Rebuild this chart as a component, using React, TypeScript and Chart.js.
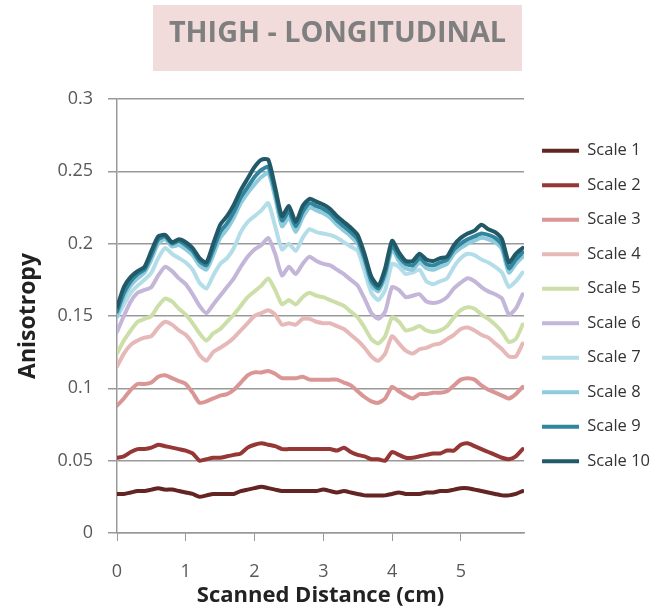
import React, { useEffect, useRef } from 'react';
import { Chart, registerables } from 'chart.js';

Chart.register(...registerables);

const chartTitle = 'THIGH - LONGITUDINAL';
const xAxisTitle = 'Scanned Distance (cm)';
const yAxisTitle = 'Anisotropy';

const distance = [
  0, 0.1, 0.2, 0.3, 0.4, 0.5, 0.6, 0.7, 0.8, 0.9,
  1.0, 1.1, 1.2, 1.3, 1.4, 1.5, 1.6, 1.7, 1.8, 1.9,
  2.0, 2.1, 2.2, 2.3, 2.4, 2.5, 2.6, 2.7, 2.8, 2.9,
  3.0, 3.1, 3.2, 3.3, 3.4, 3.5, 3.6, 3.7, 3.8, 3.9,
  4.0, 4.1, 4.2, 4.3, 4.4, 4.5, 4.6, 4.7, 4.8, 4.9,
  5.0, 5.1, 5.2, 5.3, 5.4, 5.5, 5.6, 5.7, 5.8, 5.9,
];

const seriesNames = ['Scale 1', 'Scale 2', 'Scale 3', 'Scale 4', 'Scale 5', 'Scale 6', 'Scale 7', 'Scale 8', 'Scale 9', 'Scale 10'];
const seriesColors = ['#632523', '#953735', '#d99694', '#e6b9b8', '#cddfa8', '#c3b6d8', '#b3dde8', '#8ecbdc', '#31859c', '#215968'];

const scale1 = [.027,.027,.028,.029,.029,.030,.031,.030,.030,.029, .028,.027,.025,.026,.027,.027,.027,.027,.029,.030, .031,.032,.031,.030,.029,.029,.029,.029,.029,.029, .030,.029,.028,.029,.028,.027,.026,.026,.026,.026, .027,.028,.027,.027,.027,.028,.028,.029,.029,.030, .031,.031,.030,.029,.028,.027,.026,.026,.027,.029];
const scale2 = [.052,.053,.056,.058,.058,.059,.061,.060,.059,.058, .057,.055,.050,.051,.052,.052,.053,.054,.055,.059, .061,.062,.061,.060,.058,.058,.058,.058,.058,.058, .058,.058,.057,.059,.056,.054,.053,.051,.051,.050, .056,.054,.052,.052,.053,.054,.055,.055,.057,.057, .061,.062,.060,.058,.056,.054,.052,.051,.053,.058];
const scale3 = [.088,.093,.099,.103,.103,.104,.108,.109,.107,.105, .103,.097,.090,.091,.093,.095,.096,.099,.104,.109, .111,.111,.112,.110,.107,.107,.107,.108,.106,.106, .106,.106,.106,.104,.102,.098,.094,.091,.090,.093, .101,.098,.095,.093,.096,.096,.097,.097,.098,.102, .106,.107,.106,.102,.099,.097,.095,.093,.096,.101];
const scale4 = [.115,.124,.130,.133,.135,.136,.142,.146,.144,.140, .137,.131,.123,.119,.125,.128,.131,.135,.140,.145, .150,.152,.154,.151,.144,.145,.144,.148,.148,.146, .145,.145,.143,.141,.137,.133,.128,.122,.119,.124, .136,.131,.126,.124,.127,.128,.130,.131,.134,.137, .141,.142,.140,.137,.135,.131,.127,.122,.122,.131];
const scale5 = [.124,.133,.140,.146,.148,.150,.157,.162,.160,.155, .151,.145,.138,.133,.138,.141,.146,.151,.157,.163, .167,.171,.176,.168,.158,.161,.158,.163,.166,.164, .163,.161,.159,.157,.153,.149,.142,.134,.131,.136, .149,.146,.140,.141,.143,.140,.139,.140,.143,.149, .154,.156,.155,.151,.148,.144,.139,.132,.134,.144];
const scale6 = [.139,.150,.160,.166,.168,.170,.178,.184,.181,.176, .172,.165,.157,.152,.158,.164,.170,.176,.184,.191, .196,.199,.204,.193,.178,.184,.179,.186,.191,.188, .186,.185,.182,.179,.175,.171,.162,.152,.148,.153, .170,.168,.163,.164,.165,.160,.159,.160,.163,.169, .173,.176,.174,.170,.167,.165,.162,.151,.155,.165];
const scale7 = [.149,.158,.166,.171,.175,.180,.190,.197,.193,.190, .187,.182,.173,.169,.178,.186,.190,.197,.208,.215, .219,.223,.228,.212,.196,.200,.195,.204,.210,.208, .207,.206,.204,.201,.198,.195,.181,.166,.161,.168, .186,.184,.179,.180,.182,.174,.172,.174,.176,.184, .190,.193,.192,.189,.187,.184,.180,.170,.174,.180];
const scale8 = [.150,.163,.171,.176,.180,.189,.200,.203,.198,.199, .196,.192,.185,.182,.192,.204,.210,.218,.228,.235, .241,.246,.249,.232,.212,.218,.208,.218,.225,.223, .221,.218,.213,.209,.205,.200,.187,.171,.167,.177, .196,.188,.183,.182,.187,.183,.182,.184,.186,.193, .197,.200,.202,.204,.203,.201,.196,.180,.186,.191];
const scale9 = [.153,.166,.174,.179,.182,.192,.203,.205,.200,.202, .199,.195,.188,.185,.196,.208,.214,.222,.232,.239, .246,.251,.253,.236,.216,.222,.212,.222,.228,.226, .224,.221,.216,.212,.208,.203,.190,.174,.169,.180, .199,.191,.186,.185,.190,.186,.185,.187,.189,.196, .200,.203,.205,.207,.206,.204,.199,.183,.189,.194];
const scale10 = [.156,.170,.177,.181,.184,.195,.205,.206,.201,.203, .201,.197,.190,.187,.200,.213,.219,.227,.237,.245, .253,.258,.258,.239,.219,.226,.215,.226,.231,.229, .227,.224,.219,.215,.211,.206,.193,.177,.171,.183, .202,.194,.188,.188,.193,.189,.188,.190,.191,.199, .204,.207,.209,.213,.210,.208,.203,.187,.193,.197];

const seriesValues = [scale1, scale2, scale3, scale4, scale5, scale6, scale7, scale8, scale9, scale10];

const FONT = "'Open Sans', 'DejaVu Sans', sans-serif";

const titleBackground = {
  id: 'titleBackground',
  beforeDraw(chart: any) {
    const tb = chart.titleBlock;
    if (!tb) return;
    const cx = (tb.left + tb.right) / 2;
    const ctx = chart.ctx;
    ctx.save();
    ctx.fillStyle = '#f2dcdb';
    ctx.fillRect(cx - 184.5, tb.top + 5, 369, 66);
    ctx.restore();
  },
};

export default function App() {
  const canvasRef = useRef<HTMLCanvasElement | null>(null);

  useEffect(() => {
    const canvas = canvasRef.current;
    if (!canvas) return;
    const chart = new Chart(canvas, {
      type: 'line',
      data: {
        labels: distance,
        datasets: seriesValues.map((vals, i) => ({
          label: seriesNames[i],
          data: vals,
          borderColor: seriesColors[i],
          backgroundColor: seriesColors[i],
          borderWidth: 4,
          pointRadius: 0,
          tension: 0.2,
          borderJoinStyle: 'round',
          borderCapStyle: 'round',
          order: seriesValues.length - i,
        })),
      },
      plugins: [titleBackground],
      options: {
        responsive: false,
        animation: false,
        layout: { padding: { left: 15, right: 3, top: 0, bottom: 0 } },
        plugins: {
          title: {
            display: true,
            text: chartTitle,
            color: '#7f7f7f',
            font: { family: FONT, size: 28.8, weight: 'bold' },
            padding: { top: 16.5, bottom: 47.9 },
          },
          legend: {
            position: 'right',
            labels: {
              boxWidth: 37,
              boxHeight: 4,
              padding: 18,
              color: '#333333',
              font: { family: FONT, size: 16.5 },
              generateLabels: (ch: any) => {
                const items = (Chart.defaults.plugins.legend.labels as any).generateLabels(ch);
                items.forEach((it: any) => {
                  it.lineWidth = 0;
                  it.fillStyle = it.strokeStyle;
                });
                return items.sort((a: any, b: any) => a.datasetIndex - b.datasetIndex);
              },
            },
          },
          tooltip: { enabled: false },
        },
        scales: {
          x: {
            type: 'linear',
            min: 0,
            max: 5.92,
            afterBuildTicks: (scale: any) => {
              scale.ticks = scale.ticks.filter((t: any) => Number.isInteger(t.value));
            },
            afterFit: (scale: any) => {
              scale.height = 79;
            },
            ticks: {
              stepSize: 1,
              color: '#595959',
              padding: 20,
              font: { family: FONT, size: 18 },
            },
            grid: {
              drawOnChartArea: false,
              drawTicks: true,
              tickLength: 8,
              color: '#999999',
            },
            border: { color: '#999999', width: 1.5 },
            title: {
              display: true,
              text: xAxisTitle,
              color: '#222222',
              font: { family: FONT, size: 22, weight: 'bold' },
              padding: { top: 0, bottom: 3 },
            },
          },
          y: {
            min: 0,
            max: 0.3,
            afterFit: (scale: any) => {
              scale.width = 102;
            },
            ticks: {
              stepSize: 0.05,
              color: '#595959',
              padding: 15,
              font: { family: FONT, size: 18 },
              callback: (value: any) => String(Number(Number(value).toFixed(2))),
            },
            grid: {
              color: '#999999',
              lineWidth: 1.5,
              tickLength: 9,
            },
            border: { color: '#999999', width: 1.5 },
            title: {
              display: true,
              text: yAxisTitle,
              color: '#222222',
              font: { family: FONT, size: 23, weight: 'bold' },
              padding: { top: 0, bottom: 0 },
            },
          },
        },
      },
    } as any);
    return () => chart.destroy();
  }, []);

  return (
    <div style={{ position: 'absolute', left: 0, top: 0, width: 663, height: 612, background: '#ffffff' }}>
      <canvas ref={canvasRef} width={663} height={612} style={{ display: 'block', width: 663, height: 612 }} />
    </div>
  );
}
